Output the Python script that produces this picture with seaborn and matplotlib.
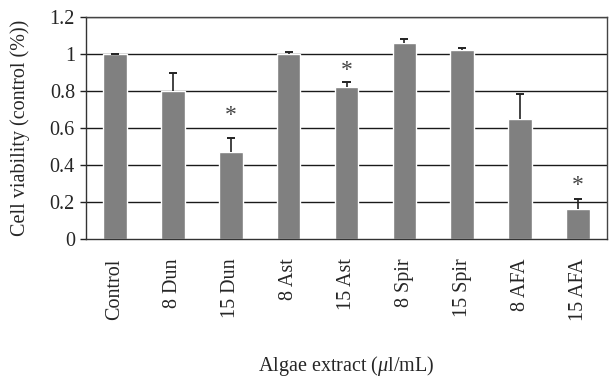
import matplotlib
matplotlib.use("Agg")
import matplotlib.pyplot as plt
import seaborn as sns
import pandas as pd
import numpy as np

categories = ["Control", "8 Dun", "15 Dun", "8 Ast", "15 Ast", "8 Spir", "15 Spir", "8 AFA", "15 AFA"]
viability = [1.0, 0.80, 0.468, 1.0, 0.82, 1.059, 1.02, 0.648, 0.162]
errors = [0.002, 0.095, 0.076, 0.012, 0.029, 0.022, 0.011, 0.137, 0.054]
significant = [False, False, True, False, True, False, False, False, True]
star_heights = [0, 0, 0.665, 0, 0.91, 0, 0, 0, 0.29]
yticks = [0, 0.2, 0.4, 0.6, 0.8, 1.0, 1.2]
ytick_labels = ["0", "0.2", "0.4", "0.6", "0.8", "1", "1.2"]

sns.set_style("white")
plt.rcParams["font.family"] = ["Liberation Serif", "DejaVu Serif"]
plt.rcParams["mathtext.fontset"] = "custom"
plt.rcParams["mathtext.it"] = "Liberation Serif:italic"
plt.rcParams["mathtext.rm"] = "Liberation Serif"

df = pd.DataFrame({"cat": categories, "val": viability})

fig = plt.figure(figsize=(6.12, 3.78), dpi=100)
ax = fig.add_axes([86/612, 1-239/378, (607-86)/612, (239-17)/378])

for y in yticks[1:]:
    ax.axhline(y, color="#1a1a1a", lw=1.0, zorder=0)

sns.barplot(data=df, x="cat", y="val", color="#808080", saturation=1,
            width=0.41, errorbar=None, ax=ax, zorder=2)
x = np.arange(len(categories))
tops = np.array(viability) + np.array(errors)
ax.vlines(x, viability, tops, color="#222222", lw=1.2, zorder=3)
ax.hlines(tops, x - 0.07, x + 0.07, color="#222222", lw=1.4, zorder=3)

for xi, s, h in zip(x, significant, star_heights):
    if s:
        ax.text(xi, h, "*", ha="center", va="center", fontsize=17, color="#444444")

ax.set_ylim(0, 1.2)
ax.set_xlim(-0.5, len(categories) - 0.5)
ax.set_yticks(yticks)
ax.set_yticklabels(ytick_labels, fontsize=14.5)
ax.set_xticks(x)
ax.set_xticklabels(categories, rotation=90, fontsize=14.5)
ax.set_xticks(np.arange(len(categories) + 1) - 0.5, minor=True)
ax.tick_params(axis="x", which="major", length=0, pad=14)
ax.tick_params(axis="x", which="minor", length=5, width=1, color="#222222", direction="out")
ax.tick_params(axis="y", which="major", length=4, width=1, color="#222222", direction="out", left=True, pad=4)

for side in ["left", "bottom", "top", "right"]:
    ax.spines[side].set_visible(True)
    ax.spines[side].set_color("#333333")
    ax.spines[side].set_linewidth(1)
ax.spines["top"].set_color("#444444")
ax.spines["right"].set_color("#444444")

ax.set_ylabel("Cell viability (control (%))", fontsize=14.5, labelpad=14)
ax.set_xlabel(r"Algae extract ($\mathit{\mu}$l/mL)", fontsize=14.5, labelpad=24)

fig.savefig("out.png", dpi=100)
